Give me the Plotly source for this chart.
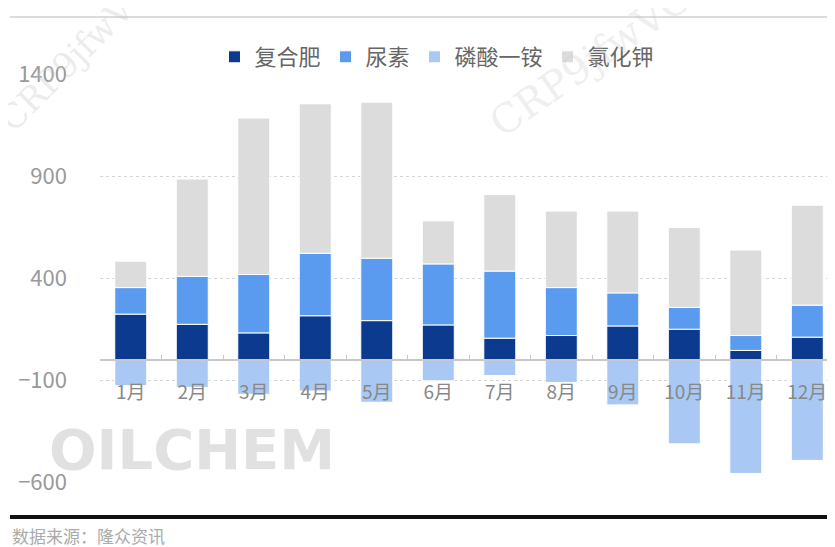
import plotly.graph_objects as go

months = ["1月", "2月", "3月", "4月", "5月", "6月", "7月", "8月", "9月", "10月", "11月", "12月"]
compound = [223, 173, 131, 215, 191, 170, 105, 118, 165, 149, 45, 110]
urea = [130, 235, 286, 306, 306, 299, 329, 235, 162, 107, 73, 157]
map_ = [-128, -136, -170, -154, -209, -104, -78, -112, -222, -413, -558, -494]
kcl = [129, 477, 767, 733, 765, 211, 375, 375, 401, 391, 419, 490]

y_ticks = [-600, -100, 400, 900, 1400]

FONT = "Noto Sans CJK SC"
OFF = 8  # page body margin
W, H = 835 - OFF, 547 - OFF
L, R, T, B = 100 - OFF, 0, 74 - OFF, 547 - 482
pw, ph = W - L - R, H - T - B

def px_x(x):
    return (x - OFF - L) / pw

def px_y(y):
    return (H - B - (y - OFF)) / ph

fig = go.Figure()
series = [
    ("复合肥", compound, "#0b3a8e"),
    ("尿素", urea, "#5b9bef"),
    ("磷酸一铵", map_, "#a9c8f4"),
    ("氯化钾", kcl, "#dcdcdc"),
]
for name, vals, col in series:
    fig.add_trace(go.Bar(
        x=months, y=vals, name=name, width=0.52,
        marker=dict(color=col, line=dict(color="white", width=1)),
    ))

fig.update_layout(
    width=W, height=H,
    margin=dict(l=L, r=R, t=T, b=B),
    barmode="relative",
    plot_bgcolor="white", paper_bgcolor="white",
    font=dict(family=FONT, color="#888"),
    legend=dict(
        orientation="h", x=px_x(437), xanchor="center",
        y=px_y(57), yanchor="middle",
        font=dict(size=22, color="#666", family=FONT),
        traceorder="normal", itemwidth=30,
    ),
    xaxis=dict(
        range=[-0.5, 11.45], anchor="free", position=0.3,
        showline=True, linecolor="#c8c8c8", linewidth=1.5,
        ticks="inside", tickson="boundaries", ticklen=4, tickcolor="#c8c8c8",
        tickfont=dict(size=19, color="#888", family=FONT),
        ticklabelstandoff=16, showgrid=False, zeroline=False,
    ),
    yaxis=dict(
        range=[-600, 1400], tickvals=y_ticks,
        showgrid=True, gridcolor="#d6d6d6", griddash="dot", gridwidth=1,
        zeroline=False, showline=False,
        tickfont=dict(size=22, color="#999", family=FONT),
        ticklabelstandoff=32,
    ),
    shapes=[
        dict(type="line", xref="paper", yref="paper",
             x0=px_x(10), x1=1, y0=px_y(17), y1=px_y(17),
             line=dict(color="#d0d0d0", width=1.5)),
        dict(type="line", xref="paper", yref="paper",
             x0=px_x(10), x1=1, y0=px_y(517), y1=px_y(517),
             line=dict(color="#111", width=4)),
    ],
    annotations=[
        dict(text="数据来源：隆众资讯", xref="paper", yref="paper",
             x=px_x(10), y=px_y(535), xanchor="left", yanchor="middle",
             showarrow=False, font=dict(size=17, color="#aaa", family=FONT)),
        dict(text="<b>OILCHEM</b>", xref="paper", yref="paper",
             x=px_x(192), y=px_y(449), xanchor="center", yanchor="middle",
             showarrow=False, font=dict(size=56, color="rgba(195,195,195,0.5)", family="DejaVu Sans")),
        dict(text="CRP9jfwVC", xref="paper", yref="paper",
             x=px_x(75), y=px_y(55), xanchor="center", yanchor="middle", textangle=-45,
             showarrow=False, font=dict(size=34, color="rgba(200,200,200,0.35)", family="DejaVu Serif")),
        dict(text="CRP9jfwVC", xref="paper", yref="paper",
             x=px_x(590), y=px_y(60), xanchor="center", yanchor="middle", textangle=-35,
             showarrow=False, font=dict(size=40, color="rgba(200,200,200,0.3)", family="DejaVu Serif")),
    ],
)

fig.write_html("out.html")
